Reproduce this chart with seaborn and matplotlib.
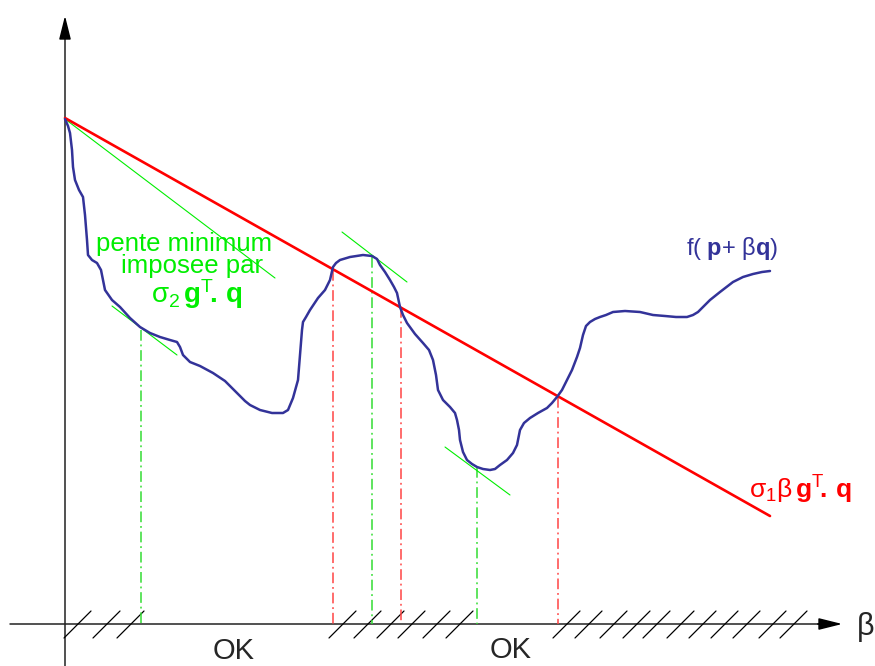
import numpy as np
import pandas as pd
import seaborn as sns
import matplotlib.pyplot as plt

# f(p + beta q) curve, traced in picture pixels (x right, y down)
curve_x = [65, 68, 70, 72, 73, 75, 79, 83, 85, 87, 88, 92, 97, 101, 105, 112, 120, 130, 140,
           150, 160, 170, 177, 180, 183, 190, 200, 213, 225, 237, 245, 250, 260, 272, 283, 288,
           293, 298, 300, 302, 303, 306, 310, 318, 325, 330, 333, 336, 340, 350, 363, 372, 377,
           380, 385, 390, 394, 397, 400, 403, 407, 415, 423, 429, 433, 436, 438, 443, 450, 455,
           457, 459, 460, 463, 467, 472, 477, 483, 490, 495, 500, 507, 513, 517, 520, 524, 530,
           538, 547, 552, 557, 562, 567, 572, 577, 580, 583, 586, 590, 595, 600, 606, 613, 625,
           640, 653, 665, 676, 687, 693, 698, 703, 710, 720, 733, 743, 753, 762, 770]
curve_y = [119, 126, 133, 150, 167, 180, 190, 197, 215, 240, 255, 260, 263, 270, 290, 300, 307,
           318, 327, 333, 337, 340, 342, 347, 355, 362, 366, 373, 381, 393, 401, 405, 410, 413,
           413, 410, 398, 380, 355, 330, 322, 317, 310, 298, 290, 280, 267, 263, 260, 257, 255,
           256, 259, 265, 272, 280, 287, 293, 307, 315, 323, 334, 343, 350, 360, 375, 390, 400,
           407, 413, 420, 430, 440, 452, 460, 464, 467, 469, 470, 469, 465, 460, 453, 445, 430,
           423, 418, 413, 408, 403, 397, 390, 380, 370, 357, 348, 335, 326, 322, 319, 317, 315,
           312, 311, 312, 315, 316, 317, 317, 315, 312, 307, 300, 292, 282, 277, 274, 272, 271]

# sigma1 beta g^T.q line
red_x = [65, 770]
red_y = [118, 516]

# green tangent segments (x0, y0, x1, y1)
tan_x0 = [65, 112, 342, 445]
tan_y0 = [119, 306, 232, 447]
tan_x1 = [275, 177, 407, 510]
tan_y1 = [278, 355, 282, 495]

# dash-dot projections onto the beta axis
green_proj_x = [141, 372, 477]
green_proj_top = [330, 257, 467]
red_proj_x = [333, 401, 558]
red_proj_top = [270, 307, 397]

# hatch marks (lower-left x) over rejected intervals
hatch_x = [64, 93, 117, 329, 354, 377, 398, 423, 446,
           553, 575, 600, 623, 643, 667, 689, 711, 733, 759, 780]

axis_y = 624
blue = '#333399'

sns.set_style('white')
plt.rcParams['font.family'] = ['Liberation Sans', 'DejaVu Sans']
plt.rcParams['mathtext.fontset'] = 'custom'
plt.rcParams['mathtext.rm'] = 'Liberation Sans'
plt.rcParams['mathtext.it'] = 'Liberation Sans'
plt.rcParams['mathtext.bf'] = 'Liberation Sans:bold'

fig = plt.figure(figsize=(8.75, 6.66), dpi=100)
ax = fig.add_axes([0, 0, 1, 1])

# axes with arrows
ax.plot([65, 65], [666, 30], color='#222222', lw=1.1)
ax.annotate('', xy=(65, 13), xytext=(65, 40),
            arrowprops=dict(arrowstyle='-|>,head_length=0.8,head_width=0.2',
                            mutation_scale=18, color='black', lw=1.1))
ax.plot([10, 830], [axis_y, axis_y], color='#222222', lw=1.1)
ax.annotate('', xy=(845, axis_y), xytext=(815, axis_y),
            arrowprops=dict(arrowstyle='-|>,head_length=0.8,head_width=0.2',
                            mutation_scale=18, color='black', lw=1.1))

for hx in hatch_x:
    ax.plot([hx, hx + 27], [638, 611], color='black', lw=0.9)

for px, top in zip(green_proj_x, green_proj_top):
    ax.plot([px, px], [top, axis_y], color='#33dd33', lw=1.1, ls=(0, (7, 2.5, 1.2, 2.5)))
for px, top in zip(red_proj_x, red_proj_top):
    ax.plot([px, px], [top, axis_y], color='#ff4444', lw=1.1, ls=(0, (7, 2.5, 1.2, 2.5)))

for x0, y0, x1, y1 in zip(tan_x0, tan_y0, tan_x1, tan_y1):
    ax.plot([x0, x1], [y0, y1], color='#00ee00', lw=0.8)

sns.lineplot(x=red_x, y=red_y, color='#ff0000', lw=1.9, ax=ax)
df = pd.DataFrame({'x': curve_x, 'y': curve_y})
sns.lineplot(data=df, x='x', y='y', sort=False, estimator=None, color=blue, lw=1.8, ax=ax)
ax.set_xlim(0, 875)
ax.set_ylim(666, 0)
ax.axis('off')

green_txt = '#00ee00'
ax.text(184, 244, 'pente minimum', color=green_txt, fontsize=18.5, ha='center', va='center')
ax.text(192, 266, 'imposee par', color=green_txt, fontsize=18.5, ha='center', va='center')
ax.text(197, 294, r'$\sigma_2\,\mathbf{g}^{\mathrm{T}}\!\mathbf{.}\,\mathbf{q}$', color=green_txt,
        fontsize=20, ha='center', va='center')

ax.text(732, 248, r'f( $\mathbf{p}$+ β$\mathbf{q}$)', color=blue, fontsize=17,
        ha='center', va='center')
ax.text(800, 490, r'$\sigma_1\beta\,\mathbf{g}^{\mathrm{T}}\!\mathbf{.}\,\mathbf{q}$', color='#ff0000',
        fontsize=19, ha='center', va='center')

ax.text(234, 651, 'OK', fontsize=21, ha='center', va='center')
ax.text(511, 650, 'OK', fontsize=21, ha='center', va='center')
ax.text(866, 627, 'β', fontsize=22, ha='center', va='center')

plt.savefig('out.png', dpi=100)
